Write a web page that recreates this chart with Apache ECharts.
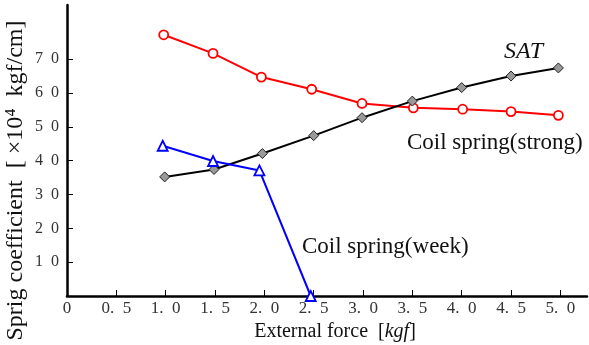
<!DOCTYPE html>
<html>
<head>
<meta charset="utf-8">
<script src="https://cdn.jsdelivr.net/npm/echarts@6/dist/echarts.min.js"></script>
<style>
  html, body { margin: 0; padding: 0; background: #fff; }
  #chart { width: 589px; height: 345px; }
</style>
</head>
<body>
<div id="chart"></div>
<script>
// values
const xStrong = [0.98, 1.48, 1.97, 2.48, 2.99, 3.51, 4.01, 4.5, 4.98];
const strongVals = [77.2, 71.7, 64.7, 61.1, 56.9, 55.6, 55.2, 54.5, 53.4];
const xSat = [0.99, 1.49, 1.98, 2.5, 2.99, 3.5, 4.0, 4.5, 4.98];
const satVals = [35.2, 37.4, 42.1, 47.4, 52.7, 57.6, 61.6, 65.0, 67.4];
const xWeek = [0.97, 1.48, 1.95, 2.47];
const weekVals = [44.4, 39.9, 37.1, 0];

const xTicks = [0, 0.5, 1, 1.5, 2, 2.5, 3, 3.5, 4, 4.5, 5];
const xTickLabels = ['0', '0.  5', '1.  0', '1.  5', '2.  0', '2.  5', '3.  0', '3.  5', '4.  0', '4.  5', '5.  0'];
const yTicks = [10, 20, 30, 40, 50, 60, 70];
const yTickLabels = ['1  0', '2  0', '3  0', '4  0', '5  0', '6  0', '7  0'];

const serif = '"Liberation Serif", "DejaVu Serif", serif';

const pair = (xs, ys) => xs.map((x, i) => [x, ys[i]]);

const chart = echarts.init(document.getElementById('chart'));
chart.setOption({
  animation: false,
  backgroundColor: '#fff',
  grid: { left: 67, right: 2, top: 5, bottom: 49, outerBoundsMode: 'none', containLabel: false },
  xAxis: {
    type: 'value',
    min: 0,
    max: 5.27,
    name: '{n|External force  [}{i|kgf}{n|]}',
    nameLocation: 'middle',
    nameGap: 26,
    nameTextStyle: {
      padding: [0, 0, 0, 16],
      rich: {
        n: { fontFamily: serif, fontSize: 20, color: '#111' },
        i: { fontFamily: serif, fontSize: 20, fontStyle: 'italic', color: '#111' },
      },
    },
    axisLine: { lineStyle: { color: '#000', width: 2.5 } },
    axisTick: {
      inside: true,
      length: 6,
      customValues: xTicks.slice(1),
      lineStyle: { color: '#000', width: 1 },
    },
    axisLabel: {
      color: '#333',
      fontFamily: serif,
      fontSize: 17,
      margin: 4,
      customValues: xTicks,
      formatter: (v) => xTickLabels[xTicks.indexOf(v)] || '',
    },
    splitLine: { show: false },
  },
  yAxis: {
    type: 'value',
    min: 0,
    max: 86,
    name: 'Sprig coefficient  [ ×10⁴  kgf/cm]',
    nameLocation: 'middle',
    nameRotate: 90,
    nameGap: 39,
    nameMoveOverlap: false,
    nameTextStyle: { fontFamily: serif, fontSize: 24, color: '#111', padding: [0, 60, 0, 0] },
    axisLine: { show: true, lineStyle: { color: '#000', width: 2.5 } },
    axisTick: {
      show: true,
      inside: true,
      length: 6,
      customValues: yTicks,
      lineStyle: { color: '#000', width: 1 },
    },
    axisLabel: {
      color: '#333',
      fontFamily: serif,
      fontSize: 16,
      margin: 8,
      customValues: yTicks,
      formatter: (v) => yTickLabels[yTicks.indexOf(v)] || '',
    },
    splitLine: { show: false },
  },
  series: [
    {
      name: 'Coil spring(strong)',
      type: 'line',
      data: pair(xStrong, strongVals),
      symbol: 'circle',
      symbolSize: 9,
      lineStyle: { color: '#ff0000', width: 2 },
      itemStyle: { color: '#fff', borderColor: '#ff0000', borderWidth: 1.8 },
    },
    {
      name: 'SAT',
      type: 'line',
      data: pair(xSat, satVals),
      symbol: 'diamond',
      symbolSize: 10,
      lineStyle: { color: '#000', width: 2 },
      itemStyle: { color: '#999', borderColor: '#222', borderWidth: 1 },
    },
    {
      name: 'Coil spring(week)',
      type: 'line',
      data: pair(xWeek, weekVals),
      symbol: 'triangle',
      symbolSize: 10,
      lineStyle: { color: '#0000ff', width: 2 },
      itemStyle: { color: '#fff', borderColor: '#0000ff', borderWidth: 1.8 },
    },
  ],
  graphic: [
    { type: 'text', left: 504, top: 40, style: { text: 'SAT', font: 'italic 24px ' + serif, fill: '#111' } },
    { type: 'text', left: 407, top: 131, style: { text: 'Coil spring(strong)', font: '23px ' + serif, fill: '#111' } },
    { type: 'text', left: 302, top: 235, style: { text: 'Coil spring(week)', font: '23px ' + serif, fill: '#111' } },
  ],
});
</script>
</body>
</html>
